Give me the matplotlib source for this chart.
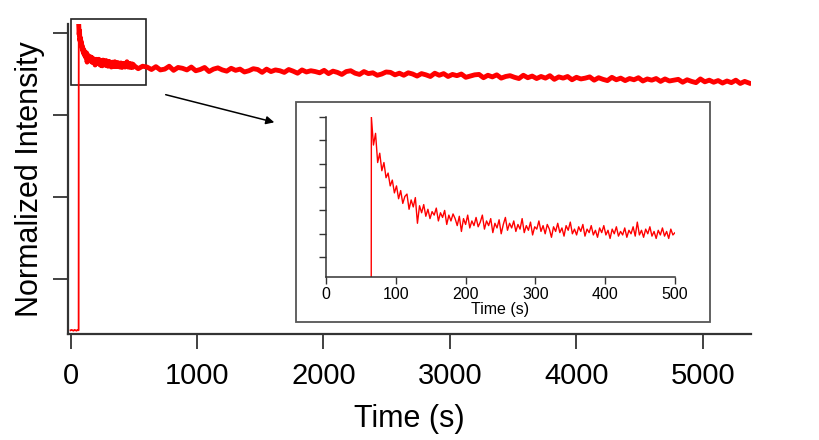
import numpy as np
import matplotlib.pyplot as plt
from matplotlib.patches import Rectangle

plt.rcParams['font.family'] = ['Liberation Sans', 'DejaVu Sans']

# baseline before the flash, sampled every 8 s
base_t0, base_dt = 0, 8
base_vals = [0.075, 0.076, 0.075, 0.074, 0.076, 0.075, 0.074, 0.076, 0.075]

# fast part after the jump (every 3 s from 65 s)
fast_t0, fast_dt = 65, 3
fast_vals = [
    0.820, 0.796, 0.806, 0.781, 0.789, 0.774, 0.781, 0.768, 0.772, 0.761,
    0.766, 0.755, 0.761, 0.750, 0.757, 0.746, 0.752, 0.754, 0.741, 0.749,
    0.743, 0.751, 0.729, 0.744, 0.738, 0.745, 0.735, 0.741, 0.733, 0.739,
    0.736, 0.742, 0.731, 0.738, 0.734, 0.740, 0.728, 0.736, 0.731, 0.737,
    0.733, 0.727, 0.735, 0.722, 0.733, 0.728, 0.736, 0.725, 0.731, 0.727,
    0.734, 0.726, 0.730, 0.736, 0.724, 0.731, 0.727, 0.733, 0.721, 0.729,
    0.725, 0.732, 0.720, 0.728, 0.734, 0.723, 0.729, 0.725, 0.731, 0.722,
    0.728, 0.724, 0.733, 0.721, 0.727, 0.723, 0.730, 0.719, 0.726, 0.724,
    0.731, 0.722, 0.727, 0.720, 0.728, 0.724, 0.717, 0.726, 0.722, 0.729,
    0.721, 0.725, 0.718, 0.727, 0.723, 0.730, 0.720, 0.724, 0.719, 0.726,
    0.722, 0.728, 0.718, 0.724, 0.721, 0.727, 0.719, 0.723, 0.717, 0.725,
    0.721, 0.727, 0.719, 0.723, 0.716, 0.724, 0.720, 0.726, 0.718, 0.722,
    0.719, 0.725, 0.717, 0.723, 0.720, 0.726, 0.718, 0.730, 0.719, 0.723,
    0.717, 0.724, 0.720, 0.726, 0.718, 0.722, 0.716, 0.723, 0.719, 0.725,
    0.718, 0.722, 0.716, 0.724, 0.719,
]

# slow part (every 35 s from 500 s)
slow_t0, slow_dt = 500, 35
slow_vals = [
    0.721, 0.713, 0.719, 0.717, 0.711, 0.718, 0.710, 0.712, 0.719, 0.709,
    0.716, 0.714, 0.710, 0.717, 0.708, 0.711, 0.716, 0.706, 0.712, 0.715,
    0.710, 0.707, 0.714, 0.709, 0.712, 0.705, 0.708, 0.713, 0.711, 0.704,
    0.712, 0.706, 0.710, 0.708, 0.704, 0.711, 0.707, 0.702, 0.710, 0.705,
    0.708, 0.706, 0.703, 0.709, 0.701, 0.707, 0.704, 0.699, 0.706, 0.708,
    0.702, 0.699, 0.706, 0.701, 0.703, 0.697, 0.700, 0.705, 0.704, 0.698,
    0.702, 0.697, 0.703, 0.700, 0.695, 0.701, 0.698, 0.694, 0.702, 0.697,
    0.701, 0.694, 0.699, 0.696, 0.700, 0.692, 0.695, 0.698, 0.699, 0.691,
    0.697, 0.693, 0.698, 0.690, 0.694, 0.696, 0.692, 0.689, 0.697, 0.691,
    0.695, 0.689, 0.694, 0.690, 0.696, 0.687, 0.693, 0.690, 0.694, 0.686,
    0.692, 0.688, 0.690, 0.693, 0.685, 0.691, 0.687, 0.684, 0.692, 0.686,
    0.690, 0.684, 0.689, 0.686, 0.691, 0.683, 0.688, 0.685, 0.689, 0.682,
    0.688, 0.683, 0.685, 0.687, 0.680, 0.686, 0.682, 0.679, 0.688, 0.681,
    0.685, 0.680, 0.684, 0.678, 0.683, 0.679, 0.685, 0.677, 0.682, 0.678,
]

main_xticks = [0, 1000, 2000, 3000, 4000, 5000]
main_yticks = [0.2, 0.4, 0.6, 0.8]
inset_xticks = [0, 100, 200, 300, 400, 500]
inset_yticks = [0.70, 0.72, 0.74, 0.76, 0.78, 0.80, 0.82]


def sample_times(t0, dt, vals):
    return t0 + dt * np.arange(len(vals))


t_base = sample_times(base_t0, base_dt, base_vals)
t_fast = sample_times(fast_t0, fast_dt, fast_vals)
t_slow = sample_times(slow_t0, slow_dt, slow_vals)

t_all = np.concatenate([t_base, t_fast, t_slow])
v_all = np.concatenate([base_vals, fast_vals, slow_vals])
t_decay = np.concatenate([t_fast, t_slow])
v_decay = np.concatenate([fast_vals, slow_vals])

RED = '#ff0000'
SPINE = '#333333'
W, H = 820, 440

fig = plt.figure(figsize=(8.2, 4.4), dpi=100)

# main axes
ax = fig.add_axes([68 / W, 1 - 334 / H, (751 - 68) / W, (334 - 24) / H])
# thin for the baseline and the jump, thick band for the decay
ax.plot(np.append(t_base, t_fast[0]), np.append(base_vals, fast_vals[0]),
        color=RED, lw=1.3)
ax.plot(t_decay, v_decay, color=RED, lw=3.5, solid_joinstyle='round')
ax.set_xlim(-20, 5380)
ax.set_ylim(0.066, 0.822)
for s in ['top', 'right']:
    ax.spines[s].set_visible(False)
for s in ['left', 'bottom']:
    ax.spines[s].set_linewidth(1.6)
    ax.spines[s].set_color(SPINE)
ax.set_xticks(main_xticks)
ax.set_yticks(main_yticks)
ax.set_yticklabels([])
ax.tick_params(direction='out', length=11, width=1.3, color=SPINE,
               labelsize=21, pad=9)
ax.set_xlabel('Time (s)', fontsize=22, labelpad=10)
ax.set_ylabel('Normalized Intensity', fontsize=22)
ax.yaxis.set_label_coords(-0.034, 0.5)

# zoom box on the early part
ax.add_patch(Rectangle((0, 0.673), 600, 0.162, fill=False, lw=1.2,
                       ec='#222222', clip_on=False))

# arrow to the inset
ax.annotate('', xy=(277 / W, 1 - 123 / H), xytext=(163 / W, 1 - 94 / H),
            xycoords='figure fraction', textcoords='figure fraction',
            arrowprops=dict(arrowstyle='-|>', color='black', lw=1.1,
                            mutation_scale=12))

# frame around the inset
fig.add_artist(Rectangle((296 / W, 1 - 322 / H), (710 - 296) / W,
                         (322 - 102) / H, transform=fig.transFigure,
                         fill=False, lw=1.3, ec='#555555'))

# inset axes
ins = fig.add_axes([326 / W, 1 - 277 / H, (675 - 326) / W, (277 - 117) / H])
ins.plot(t_all, v_all, color=RED, lw=1.0)
ins.set_xlim(0, 500)
ins.set_ylim(0.683, 0.82)
for s in ['top', 'right']:
    ins.spines[s].set_visible(False)
for s in ['left', 'bottom']:
    ins.spines[s].set_linewidth(1.1)
    ins.spines[s].set_color(SPINE)
ins.set_xticks(inset_xticks)
ins.set_yticks(inset_yticks)
ins.set_yticklabels([])
ins.tick_params(direction='out', length=5, width=1, color=SPINE,
                labelsize=11.5, pad=2)
ins.set_xlabel('Time (s)', fontsize=11.5, labelpad=0)

fig.savefig('out.png', dpi=100)
